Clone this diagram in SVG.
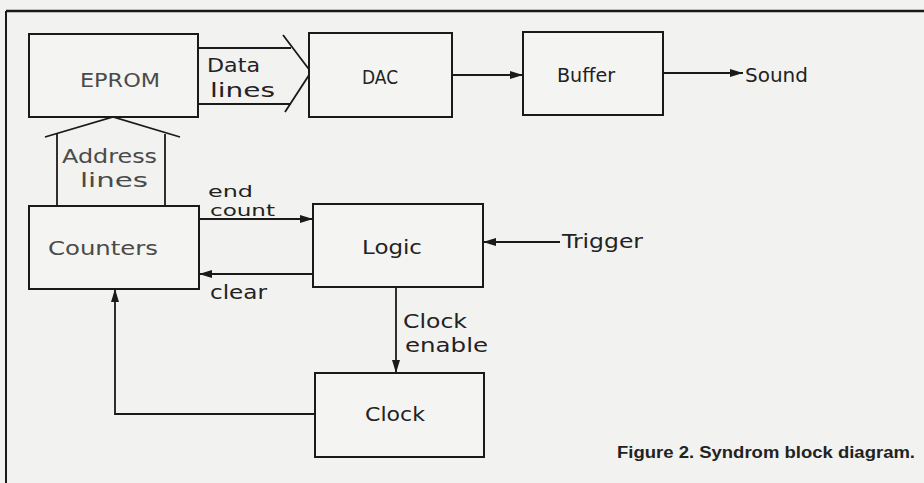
<svg xmlns="http://www.w3.org/2000/svg" width="924" height="483" viewBox="0 0 924 483">
<style>
.bg{fill:#f2f2f0}
.box{fill:#f4f4f2;stroke:#1a1a1a;stroke-width:2}
.ln{fill:none;stroke:#1a1a1a;stroke-width:1.8}
.t{font-family:"DejaVu Sans","Liberation Sans",sans-serif;font-size:20px;fill:#222}
.s{font-size:16px}
.g{fill:#4a4a4a}
.cap{font-family:"Liberation Sans",Arial,sans-serif;font-size:16px;font-weight:bold;fill:#222}
</style>
<defs>
<marker id="ah" viewBox="0 0 13 8" refX="13" refY="4" markerWidth="13" markerHeight="8" markerUnits="userSpaceOnUse" orient="auto">
<path d="M0,0 L13,4 L0,8 Z" fill="#1a1a1a"/>
</marker>
</defs>
<rect class="bg" x="0" y="0" width="924" height="483"/>
<g id="frame">
<line x1="6" y1="11" x2="924" y2="11" stroke="#1a1a1a" stroke-width="2.5"/>
<line x1="6" y1="11" x2="6" y2="483" stroke="#1a1a1a" stroke-width="2"/>
</g>
<g id="connectors">
<polyline class="ln" points="198,48 291,48"/>
<polyline class="ln" points="198,104 291,104"/>
<polyline class="ln" points="283,35 311,72 285,112"/>
<polyline class="ln" points="45,137 113,117 180,137"/>
<line class="ln" x1="57" y1="134" x2="57" y2="206"/>
<line class="ln" x1="165" y1="134" x2="165" y2="206"/>
<line class="ln" x1="452" y1="75" x2="523" y2="75" marker-end="url(#ah)"/>
<line class="ln" x1="663" y1="73" x2="743" y2="73" marker-end="url(#ah)"/>
<line class="ln" x1="199" y1="219" x2="313" y2="219" marker-end="url(#ah)"/>
<line class="ln" x1="313" y1="274" x2="199" y2="274" marker-end="url(#ah)"/>
<line class="ln" x1="560" y1="242" x2="483" y2="242" marker-end="url(#ah)"/>
<line class="ln" x1="396" y1="287" x2="396" y2="373" marker-end="url(#ah)"/>
<polyline class="ln" points="315,414 115,414 115,289" marker-end="url(#ah)"/>
</g>
<g id="eprom">
<rect class="box" x="29" y="34" width="169" height="83"/>
<text class="t g" x="80" y="87" textLength="80" lengthAdjust="spacingAndGlyphs">EPROM</text>
</g>
<g id="dac">
<rect class="box" x="309" y="33" width="143" height="84"/>
<text class="t" x="362" y="84" textLength="36" lengthAdjust="spacingAndGlyphs">DAC</text>
</g>
<g id="buffer">
<rect class="box" x="523" y="32" width="140" height="83"/>
<text class="t" x="557" y="82" textLength="58" lengthAdjust="spacingAndGlyphs">Buffer</text>
</g>
<g id="counters">
<rect class="box" x="29" y="206" width="170" height="83"/>
<text class="t g" x="48" y="255" textLength="110" lengthAdjust="spacingAndGlyphs">Counters</text>
</g>
<g id="logic">
<rect class="box" x="313" y="204" width="170" height="83"/>
<text class="t" x="362" y="254" textLength="60" lengthAdjust="spacingAndGlyphs">Logic</text>
</g>
<g id="clock">
<rect class="box" x="315" y="373" width="169" height="84"/>
<text class="t" x="365" y="421" textLength="60" lengthAdjust="spacingAndGlyphs">Clock</text>
</g>
<g id="labels">
<text class="t" x="207" y="72" textLength="53" lengthAdjust="spacingAndGlyphs">Data</text>
<text class="t" x="210" y="97" textLength="65" lengthAdjust="spacingAndGlyphs">lines</text>
<text class="t g" x="62" y="163" textLength="95" lengthAdjust="spacingAndGlyphs">Address</text>
<text class="t g" x="80" y="187" textLength="68" lengthAdjust="spacingAndGlyphs">lines</text>
<text class="t" x="745" y="82" textLength="63" lengthAdjust="spacingAndGlyphs">Sound</text>
<text class="t s" x="208" y="197" textLength="45" lengthAdjust="spacingAndGlyphs">end</text>
<text class="t s" x="210" y="216" textLength="65" lengthAdjust="spacingAndGlyphs">count</text>
<text class="t" x="210" y="299" textLength="57" lengthAdjust="spacingAndGlyphs">clear</text>
<text class="t" x="562" y="248" textLength="81" lengthAdjust="spacingAndGlyphs">Trigger</text>
<text class="t" x="403" y="328" textLength="64" lengthAdjust="spacingAndGlyphs">Clock</text>
<text class="t" x="405" y="352" textLength="83" lengthAdjust="spacingAndGlyphs">enable</text>
<text class="cap" x="617" y="458" textLength="298" lengthAdjust="spacingAndGlyphs">Figure 2. Syndrom block diagram.</text>
</g>
</svg>
